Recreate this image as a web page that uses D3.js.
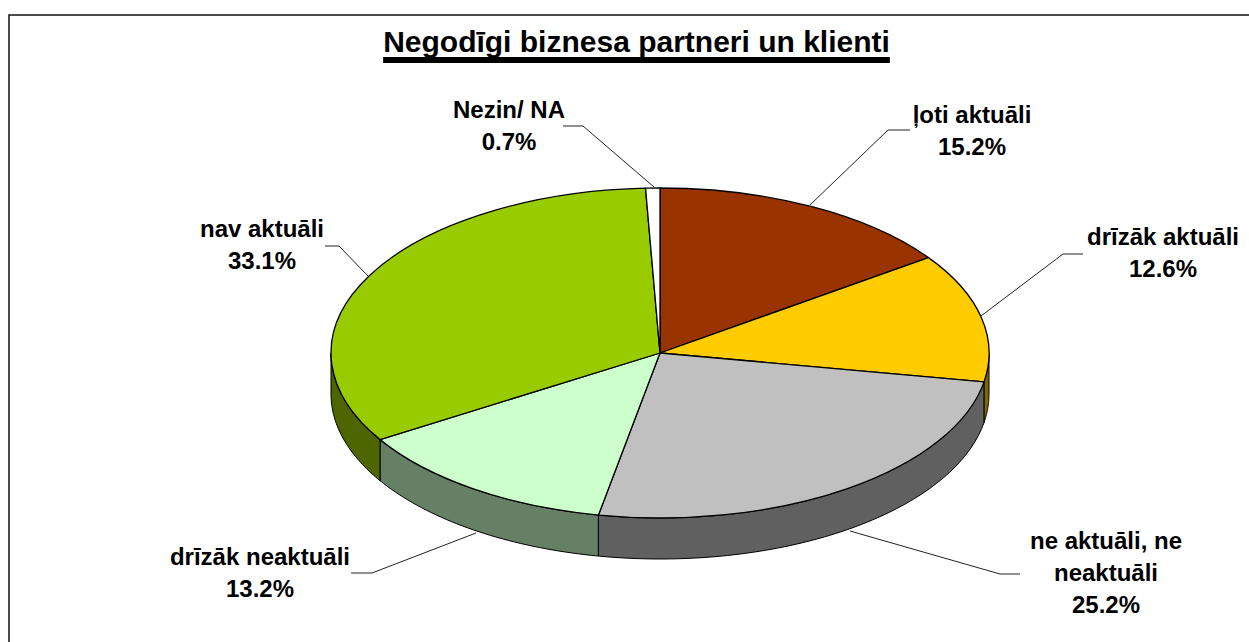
<!DOCTYPE html>
<html><head><meta charset="utf-8">
<script src="https://cdn.jsdelivr.net/npm/d3@7/dist/d3.min.js"></script>
<style>html,body{margin:0;padding:0;background:#fff}svg{display:block}text{font-family:"Liberation Sans",Arial,sans-serif;font-weight:bold;fill:#000}</style>
</head><body><svg id="c" width="1249" height="642"></svg>
<script>
const categories = ["ļoti aktuāli","drīzāk aktuāli","ne aktuāli, ne neaktuāli","drīzāk neaktuāli","nav aktuāli","Nezin/ NA"];
const values = [15.2,12.6,25.2,13.2,33.1,0.7];
const topColors = ["#993300","#FFCC00","#C0C0C0","#CCFFCC","#99CC00","#FFFFFF"];
const sideColors = ["#4d1a00","#806600","#606060","#668066","#4d6600","#808080"];
const labelLines = [["ļoti aktuāli","15.2%"],["drīzāk aktuāli","12.6%"],["ne aktuāli, ne","neaktuāli","25.2%"],["drīzāk neaktuāli","13.2%"],["nav aktuāli","33.1%"],["Nezin/ NA","0.7%"]];
const labelPos = [[972,123],[1163,245],[1106,549],[260,565],[262,237],[509,118]];
const leaders = [[[810,205],[888,130],[910,130]],[[981,316],[1063,254],[1083,254]],[[850,531],[1000,574],[1020,574]],[[476,533],[372,573],[351,573]],[[368,276],[339,246],[325,246]],[[654,187],[583,126],[563,126]]];

const cx=660,cy=353,rx=329,ry=165,depth=41;
const svg=d3.select("#c");
svg.append("path").attr("d",d3.line()([[9,642],[9,15],[1249,15]])).attr("fill","none").attr("stroke","#111").attr("stroke-width",1.5);

const title="Negodīgi biznesa partneri un klienti";
const tt=svg.append("text").attr("x",636.5).attr("y",52).attr("text-anchor","middle").attr("font-size",30).text(title);
const tw=tt.node().getComputedTextLength();
svg.append("rect").attr("x",636.5-tw/2).attr("y",57).attr("width",tw).attr("height",6).attr("fill","#000");

const arcs=d3.pie().sort(null).value(d=>d)(values);
const px=a=>cx+rx*Math.sin(a), py=a=>cy-ry*Math.cos(a);
const line=d3.line();
const sampler=(a0,a1)=>d3.range(0,41).map(i=>a0+(a1-a0)*i/40);
const vis0=Math.PI/2,vis1=3*Math.PI/2;
arcs.forEach((d,i)=>{
  const a0=Math.max(d.startAngle,vis0),a1=Math.min(d.endAngle,vis1);
  if(a1<=a0)return;
  const s=sampler(a0,a1);
  const pts=s.map(a=>[px(a),py(a)]).concat(s.slice().reverse().map(a=>[px(a),py(a)+depth]));
  svg.append("path").attr("d",line(pts)+"Z").attr("fill",sideColors[i]).attr("stroke","#000").attr("stroke-width",1).attr("stroke-linejoin","round");
});
const arc=d3.arc().innerRadius(0).outerRadius(1);
const g=svg.append("g").attr("transform",`translate(${cx},${cy}) scale(${rx},${ry})`);
g.selectAll("path").data(arcs).join("path").attr("d",arc).attr("fill",(d,i)=>topColors[i])
 .attr("stroke","#000").attr("stroke-width",1.3).attr("vector-effect","non-scaling-stroke").attr("stroke-linejoin","round");
leaders.forEach(l=>svg.append("path").attr("d",line(l)).attr("fill","none").attr("stroke","#222").attr("stroke-width",1));
labelLines.forEach((ls,i)=>{
  const t=svg.append("text").attr("text-anchor","middle").attr("font-size",24);
  ls.forEach((s,j)=>t.append("tspan").attr("x",labelPos[i][0]).attr("y",labelPos[i][1]+j*32).text(s));
});
</script></body></html>
